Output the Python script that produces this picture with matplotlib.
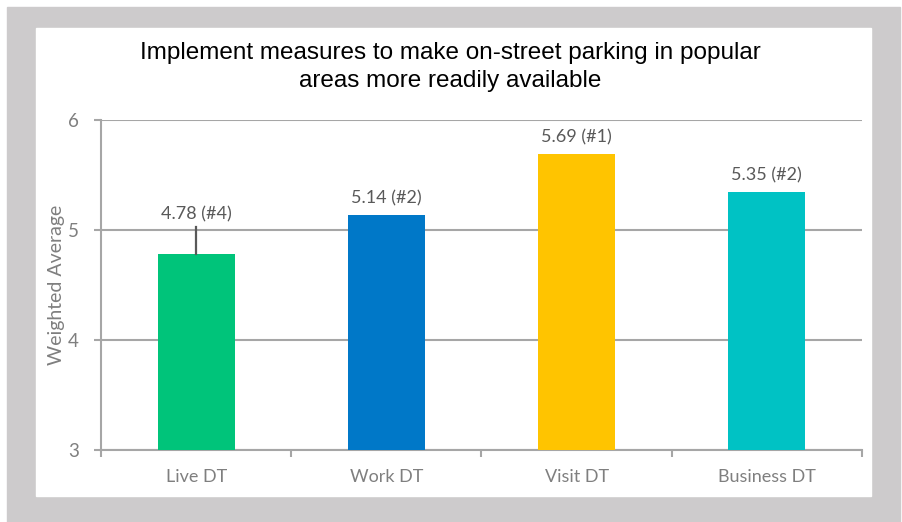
import numpy as np
import matplotlib
matplotlib.use("Agg")
import matplotlib.pyplot as plt
from matplotlib.patches import Rectangle

# data
categories = ["Live DT", "Work DT", "Visit DT", "Business DT"]
values = [4.78, 5.14, 5.69, 5.35]
ranks = ["#4", "#2", "#1", "#2"]
err_plus = [0.25, 0, 0, 0]  # only Live DT shows an error bar
colors = ["#00c47a", "#0078c8", "#ffc400", "#00c2c4"]

W, H = 903, 522
fig = plt.figure(figsize=(W / 100, H / 100), dpi=100)
fig.patch.set_facecolor("white")


def px_rect(x0, y0, x1, y1, color):
    """rectangle in figure pixels (y from top)"""
    fig.patches.append(Rectangle((x0 / W, 1 - y1 / H), (x1 - x0) / W, (y1 - y0) / H,
                                 transform=fig.transFigure, color=color, zorder=-10))


px_rect(7, 7, 900, 522, "#cdcbcc")   # gray frame
px_rect(36, 28, 871, 496, "white")   # white panel

# axes: x 101..862, y 120..450 in pixels
ax = fig.add_axes([101 / W, 1 - 450 / H, (862 - 101) / W, (450 - 120) / H])
ax.set_facecolor("none")

x = np.arange(len(categories))
ax.bar(x, values, width=0.405, bottom=0, color=colors, zorder=3)
ax.set_ylim(3, 6)
ax.set_xlim(-0.5, len(categories) - 0.5)

# error bar (plus direction only, no caps)
for xi, v, e in zip(x, values, err_plus):
    if e > 0:
        ax.plot([xi, xi], [v, v + e], color="#595959", lw=1.6, zorder=4)

for xi, v, e, r in zip(x, values, err_plus, ranks):
    off = 3 if e > 0 else 6
    ax.annotate("{:.2f} ({})".format(v, r), (xi, v + e), xytext=(0, off),
                textcoords="offset points", ha="center", va="bottom",
                fontsize=13, color="#595959", family="Lato")

gray = "#a6a6a6"
ax.set_yticks([3, 4, 5, 6])
ax.grid(axis="y", color=gray, lw=1.5, zorder=0)
ax.set_xticks(x)
ax.set_xticklabels(categories)
ax.set_xticks(np.arange(-0.5, len(categories)), minor=True)
ax.tick_params(axis="x", which="major", length=0, pad=14, labelsize=13,
               labelcolor="#7f7f7f")
ax.tick_params(axis="x", which="minor", length=5, width=1.5, color=gray)
ax.tick_params(axis="y", length=5, width=1.5, color=gray, pad=11, labelsize=13.5,
               labelcolor="#7f7f7f")
for lab in ax.get_xticklabels() + ax.get_yticklabels():
    lab.set_family("Lato")

for s in ["top", "right"]:
    ax.spines[s].set_visible(False)
for s in ["left", "bottom"]:
    ax.spines[s].set_color(gray)
    ax.spines[s].set_linewidth(1.5)

fig.text(57 / W, 1 - 285 / H, "Weighted Average", rotation=90, ha="center", va="center",
         fontsize=14, color="#7f7f7f", family="Lato")

fig.text(450 / W, 1 - 67 / H,
         "Implement measures to make on-street parking in popular\nareas more readily available",
         ha="center", va="center", fontsize=17.5, color="black", family="Liberation Sans",
         linespacing=1.3)

fig.savefig("out.png", dpi=100)
